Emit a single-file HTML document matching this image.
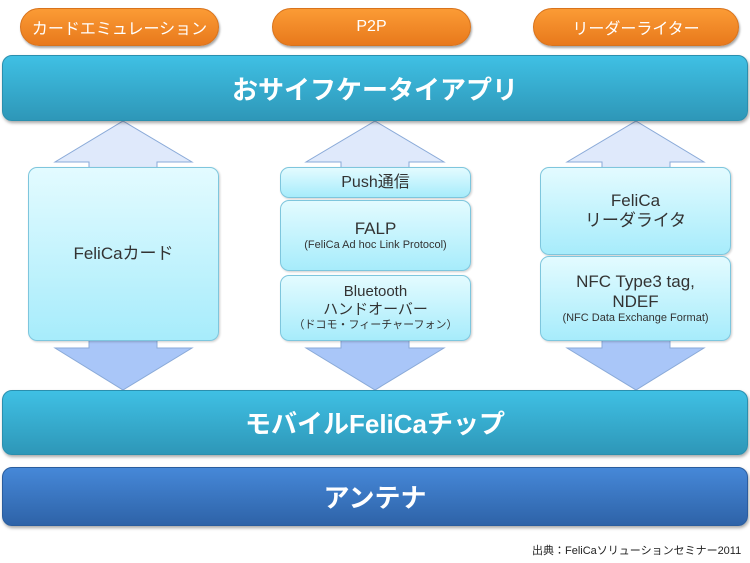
<!DOCTYPE html>
<html><head><meta charset="utf-8"><style>
body{margin:0;width:750px;height:563px;background:#fff;position:relative;overflow:hidden;font-family:"Liberation Sans","Noto Sans CJK JP",sans-serif}
.a{position:absolute;box-sizing:border-box}
.pill{border-radius:19px;background:linear-gradient(#fb9b35,#e8791c);color:#fff;font-size:16px;display:flex;align-items:center;justify-content:center;box-shadow:1px 2px 2px rgba(0,0,0,.35);border:1px solid #d8731c}
.bar{border-radius:10px;background:linear-gradient(#3fc0e4,#2e97b8);color:#fff;font-size:26px;font-weight:bold;display:flex;align-items:center;justify-content:center;box-shadow:1px 2px 3px rgba(0,0,0,.35);border:1px solid #2a8fae}
.ant{background:linear-gradient(#4688d8,#2e63a8);border-color:#2a5d9e}
.box{border-radius:9px;background:linear-gradient(#e3fbff,#a7ecfb);border:1px solid #7ec6dd;color:#333;display:flex;flex-direction:column;align-items:center;justify-content:center;text-align:center;line-height:1.2;box-shadow:1px 1px 2px rgba(0,0,0,.2)}
.s{font-size:11px}
</style></head><body>
<svg class="a" style="left:0;top:0" width="750" height="563">
<g fill="#dfe9fb" stroke="#8aaad8">
<polygon points="123,121 192,162 157,162 157,170 89,170 89,162 55,162"/>
<polygon points="375,121 444,162 409,162 409,170 341,170 341,162 306,162"/>
<polygon points="636,121 704,162 670,162 670,170 602,170 602,162 567,162"/>
</g>
<g fill="#a9c6f8" stroke="#8aaad8">
<polygon points="89,338 157,338 157,348 192,348 123,390 55,348 89,348"/>
<polygon points="341,338 409,338 409,348 444,348 375,390 306,348 341,348"/>
<polygon points="602,338 670,338 670,348 704,348 636,390 567,348 602,348"/>
</g>
</svg>
<div class="a pill" style="left:20px;top:8px;width:199px;height:38px">カードエミュレーション</div>
<div class="a pill" style="left:272px;top:8px;width:199px;height:38px">P2P</div>
<div class="a pill" style="left:533px;top:8px;width:206px;height:38px">リーダーライター</div>
<div class="a bar" style="left:2px;top:55px;width:746px;height:66px">おサイフケータイアプリ</div>
<div class="a box" style="left:28px;top:167px;width:191px;height:174px;font-size:17px">FeliCaカード</div>
<div class="a box" style="left:280px;top:167px;width:191px;height:31px;font-size:16px">Push通信</div>
<div class="a box" style="left:280px;top:200px;width:191px;height:71px;font-size:17px">FALP<span class="s">(FeliCa Ad hoc Link Protocol)</span></div>
<div class="a box" style="left:280px;top:275px;width:191px;height:66px;font-size:15px">Bluetooth<br>ハンドオーバー<span class="s">（ドコモ・フィーチャーフォン）</span></div>
<div class="a box" style="left:540px;top:167px;width:191px;height:88px;font-size:17px">FeliCa<br>リーダライタ</div>
<div class="a box" style="left:540px;top:256px;width:191px;height:85px;font-size:17px">NFC Type3 tag,<br>NDEF<span class="s">(NFC Data Exchange Format)</span></div>
<div class="a bar" style="left:2px;top:390px;width:746px;height:65px">モバイルFeliCaチップ</div>
<div class="a bar ant" style="left:2px;top:467px;width:746px;height:59px">アンテナ</div>
<div class="a" style="left:532px;top:542px;font-size:11px;color:#222">出典：FeliCaソリューションセミナー2011</div>
</body></html>
